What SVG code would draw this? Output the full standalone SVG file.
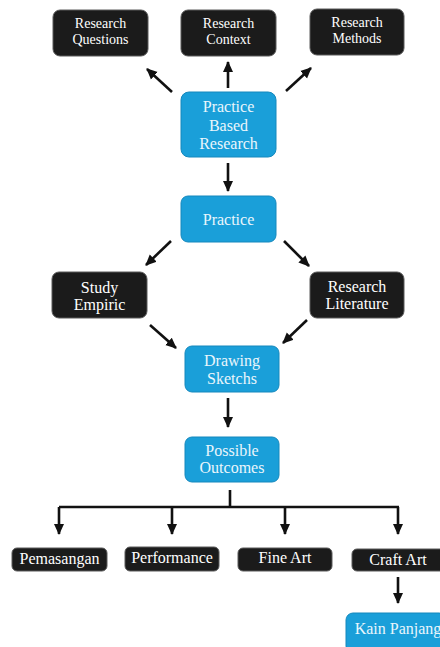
<svg xmlns="http://www.w3.org/2000/svg" width="440" height="647" viewBox="0 0 440 647" font-family="'Liberation Serif', 'Times New Roman', serif">
<style>
.dk{fill:#1b1b1b;stroke:#5a5a5a;stroke-width:1}
.bl{fill:#1a9fd9;stroke:#1588bd;stroke-width:1}
text{font-size:16px;text-anchor:middle}
.w{fill:#ffffff}
.b{fill:#eaf6fc}
.t{font-size:14px}
.c{fill:none;stroke:#111;stroke-width:2.6}
</style>
<defs>
<marker id="ah" markerUnits="userSpaceOnUse" markerWidth="12" markerHeight="12" viewBox="0 0 12 12" refX="10" refY="6" orient="auto">
<path d="M0,1 L11,6 L0,11 Z" fill="#111"/>
</marker>
</defs>
<rect width="440" height="647" fill="#ffffff"/>
<g id="connectors">
<line class="c" x1="172" y1="92" x2="147" y2="69" marker-end="url(#ah)"/>
<line class="c" x1="228" y1="88" x2="228" y2="62" marker-end="url(#ah)"/>
<line class="c" x1="286" y1="91" x2="311" y2="68" marker-end="url(#ah)"/>
<line class="c" x1="228" y1="163" x2="228" y2="191" marker-end="url(#ah)"/>
<line class="c" x1="171" y1="241" x2="146" y2="265" marker-end="url(#ah)"/>
<line class="c" x1="284" y1="241" x2="309" y2="266" marker-end="url(#ah)"/>
<line class="c" x1="150" y1="325" x2="176" y2="348" marker-end="url(#ah)"/>
<line class="c" x1="307" y1="320" x2="283" y2="343" marker-end="url(#ah)"/>
<line class="c" x1="228" y1="398" x2="228" y2="427" marker-end="url(#ah)"/>
<polyline class="c" points="230,490 230,507"/>
<line class="c" x1="59" y1="507" x2="399" y2="507"/>
<line class="c" x1="59" y1="507" x2="59" y2="534" marker-end="url(#ah)"/>
<line class="c" x1="172" y1="507" x2="172" y2="534" marker-end="url(#ah)"/>
<line class="c" x1="285" y1="507" x2="285" y2="534" marker-end="url(#ah)"/>
<line class="c" x1="398" y1="507" x2="398" y2="534" marker-end="url(#ah)"/>
<line class="c" x1="398" y1="577" x2="398" y2="603" marker-end="url(#ah)"/>
</g>
<g id="research-questions"><rect class="dk" x="53" y="10" width="95" height="46" rx="7"/><text class="w t"><tspan x="100.5" y="28">Research</tspan><tspan x="100.5" y="44">Questions</tspan></text></g>
<g id="research-context"><rect class="dk" x="181" y="10" width="95" height="46" rx="7"/><text class="w t"><tspan x="228.5" y="28">Research</tspan><tspan x="228.5" y="44">Context</tspan></text></g>
<g id="research-methods"><rect class="dk" x="310" y="9" width="94" height="46" rx="7"/><text class="w t"><tspan x="357" y="27">Research</tspan><tspan x="357" y="43">Methods</tspan></text></g>
<g id="practice-based-research"><rect class="bl" x="181" y="92" width="95" height="65" rx="8"/><text class="b"><tspan x="228.5" y="112">Practice</tspan><tspan x="228.5" y="131">Based</tspan><tspan x="228.5" y="149">Research</tspan></text></g>
<g id="practice"><rect class="bl" x="181" y="196" width="95" height="46" rx="7"/><text class="b" x="228.5" y="225">Practice</text></g>
<g id="study-empiric"><rect class="dk" x="52" y="272" width="95" height="46" rx="7"/><text class="w"><tspan x="99.5" y="293">Study</tspan><tspan x="99.5" y="310">Empiric</tspan></text></g>
<g id="research-literature"><rect class="dk" x="310" y="272" width="94" height="46" rx="7"/><text class="w"><tspan x="357" y="292">Research</tspan><tspan x="357" y="309">Literature</tspan></text></g>
<g id="drawing-sketchs"><rect class="bl" x="185" y="346" width="94" height="46" rx="7"/><text class="b"><tspan x="232" y="366">Drawing</tspan><tspan x="232" y="384">Sketchs</tspan></text></g>
<g id="possible-outcomes"><rect class="bl" x="185" y="437" width="94" height="45" rx="7"/><text class="b"><tspan x="232" y="456">Possible</tspan><tspan x="232" y="473">Outcomes</tspan></text></g>
<g id="pemasangan"><rect class="dk" x="12" y="548" width="95" height="23" rx="5"/><text class="w" x="59.5" y="564">Pemasangan</text></g>
<g id="performance"><rect class="dk" x="125" y="547" width="94" height="24" rx="5"/><text class="w" x="172" y="563">Performance</text></g>
<g id="fine-art"><rect class="dk" x="238" y="548" width="94" height="23" rx="5"/><text class="w" x="285" y="563">Fine Art</text></g>
<g id="craft-art"><rect class="dk" x="352" y="549" width="95" height="22" rx="5"/><text class="w" x="398" y="565">Craft Art</text></g>
<g id="kain-panjang"><rect class="bl" x="346" y="613" width="100" height="40" rx="7"/><text class="b" x="398" y="634">Kain Panjang</text></g>
</svg>
